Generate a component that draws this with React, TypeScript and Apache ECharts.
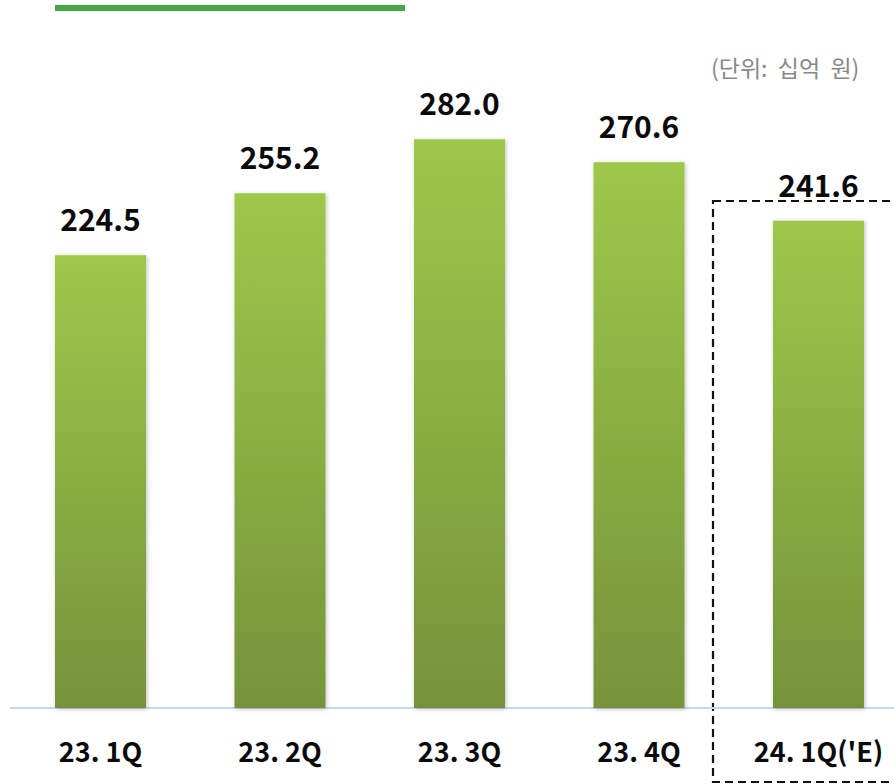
import React, { useEffect, useRef } from "react";
import * as echarts from "echarts";

const categories = ["23. 1Q", "23. 2Q", "23. 3Q", "23. 4Q", "24. 1Q('E)"];
const values = [224.5, 255.2, 282.0, 270.6, 241.6];
const unitLabel = "(단위:  십억  원)";

export default function App() {
  const ref = useRef<HTMLDivElement>(null);
  useEffect(() => {
    if (!ref.current) return;
    const chart = echarts.init(ref.current, null, { renderer: "svg" });
    const font = "'Noto Sans CJK KR', 'Open Sans', sans-serif";
    chart.setOption({
      animation: false,
      grid: { left: 10.75, right: 11.75, top: 2, bottom: 76, containLabel: false },
      xAxis: {
        type: "category",
        data: categories,
        axisLine: { show: true, lineStyle: { color: "#c6d9f0", width: 2 } },
        axisTick: { show: false },
        axisLabel: {
          margin: 29,
          fontSize: 27,
          fontWeight: "bold",
          color: "#0a0a0a",
          fontFamily: font,
        },
      },
      yAxis: {
        type: "value",
        min: 0,
        max: 350,
        show: false,
        splitLine: { show: false },
      },
      series: [
        {
          type: "bar",
          data: values,
          barWidth: 91,
          itemStyle: {
            color: new echarts.graphic.LinearGradient(0, 0, 0, 1, [
              { offset: 0, color: "#9dc84a" },
              { offset: 1, color: "#76933a" },
            ]),
            shadowBlur: 4,
            shadowColor: "rgba(0,0,0,0.25)",
            shadowOffsetX: 1,
            shadowOffsetY: 1,
          },
          label: {
            show: true,
            position: "top",
            distance: 22,
            fontSize: 30,
            fontWeight: "bold",
            color: "#0a0a0a",
            fontFamily: font,
            formatter: (p: any) => p.value.toFixed(1),
          },
        },
      ],
      graphic: [
        {
          type: "rect",
          shape: { x: 55, y: 5, width: 350, height: 6 },
          style: { fill: "#4aa545" },
        },
        {
          type: "text",
          left: 711,
          top: 55,
          style: {
            text: unitLabel,
            fontSize: 23,
            fill: "#888",
            fontFamily: font,
          },
        },
        {
          type: "rect",
          shape: { x: 713, y: 201, width: 220, height: 581 },
          style: { fill: "none", stroke: "#111", lineWidth: 2.2, lineDash: [8, 5] },
        },
      ],
    });
    return () => chart.dispose();
  }, []);
  return (
    <div
      style={{
        position: "absolute",
        left: 0,
        top: 0,
        width: 894,
        height: 784,
        overflow: "hidden",
      }}
    >
      <div ref={ref} style={{ width: 920, height: 784 }} />
    </div>
  );
}
